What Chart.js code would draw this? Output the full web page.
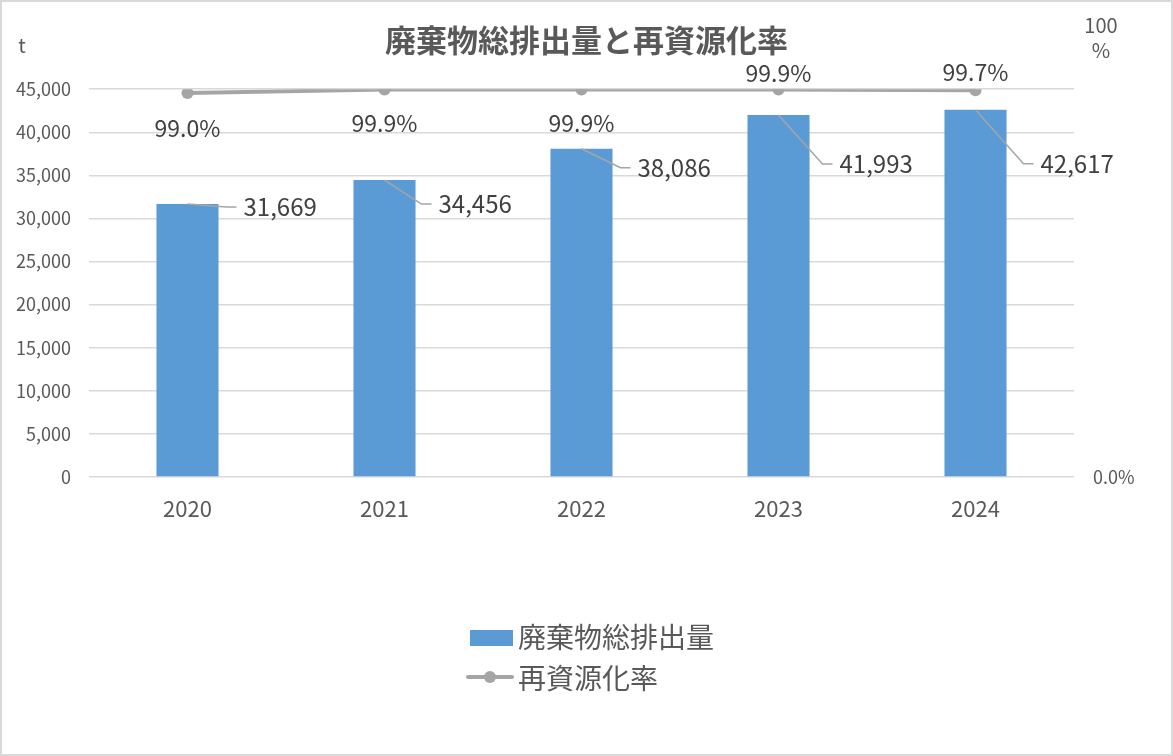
<!DOCTYPE html>
<html lang="ja">
<head>
<meta charset="utf-8">
<title>廃棄物総排出量と再資源化率</title>
<script src="https://cdn.jsdelivr.net/npm/chart.js@4.4.1/dist/chart.umd.min.js"></script>
<style>
  html, body { margin: 0; padding: 0; background: #fff; }
  .wrap { position: relative; width: 1173px; height: 756px; }
  .frame { position: absolute; inset: 0; border: 2px solid #d9d9d9; pointer-events: none; }
  canvas { display: block; }
</style>
</head>
<body>
<div class="wrap">
  <canvas id="chart" width="1173" height="756"></canvas>
  <div class="frame"></div>
</div>
<script>
const years = ["2020", "2021", "2022", "2023", "2024"];
const wasteTotal = [31669, 34456, 38086, 41993, 42617];
const recycleRate = [99.0, 99.9, 99.9, 99.9, 99.7];
const leftTicks = [0, 5000, 10000, 15000, 20000, 25000, 30000, 35000, 40000, 45000];

const FONT = "'Noto Sans CJK JP', 'Noto Sans', sans-serif";
const BLUE = "#5b9bd5";
const GRAY = "#a5a5a5";

// label placement, Excel style leader lines
const barLabelDx = [56, 54, 56, 61, 65];
const barLabelDy = [3, 24, 19, 49, 54];
const rateLabelDy = [35, 34, 34, -16, -18];

const labelPlugin = {
    id: "labels",
    afterDatasetsDraw(chart) {
        const ctx = chart.ctx;
        const bars = chart.getDatasetMeta(0).data;
        const pts = chart.getDatasetMeta(1).data;
        ctx.save();
        ctx.font = `24px ${FONT}`;
        ctx.textBaseline = "middle";
        bars.forEach((b, i) => {
            const tx = b.x + barLabelDx[i];
            const ty = b.y + barLabelDy[i];
            ctx.strokeStyle = GRAY;
            ctx.lineWidth = 1.5;
            ctx.beginPath();
            ctx.moveTo(b.x, b.y);
            ctx.lineTo(tx - 17, ty);
            ctx.lineTo(tx - 7, ty);
            ctx.stroke();
            ctx.fillStyle = "#404040";
            ctx.textAlign = "left";
            ctx.fillText(wasteTotal[i].toLocaleString("en-US"), tx, ty);
        });
        ctx.font = `23px ${FONT}`;
        ctx.textAlign = "center";
        pts.forEach((p, i) => {
            ctx.fillStyle = "#404040";
            ctx.fillText(recycleRate[i].toFixed(1) + "%", p.x, p.y + rateLabelDy[i]);
        });
        ctx.restore();
    },
    afterDraw(chart) {
        const ctx = chart.ctx;
        ctx.save();
        ctx.fillStyle = "#595959";
        ctx.textBaseline = "middle";
        ctx.textAlign = "center";
        // axis units
        ctx.font = `20px ${FONT}`;
        ctx.fillText("t", 22, 45);
        ctx.font = `20px ${FONT}`;
        ctx.fillText("100", 1101, 25);
        ctx.fillText("%", 1101, 50);

        // legend, stacked
        ctx.font = `28px ${FONT}`;
        ctx.textAlign = "left";
        ctx.fillStyle = BLUE;
        ctx.fillRect(470, 630, 43, 16);
        ctx.fillStyle = "#595959";
        ctx.fillText(chart.data.datasets[0].label, 518, 637);

        ctx.strokeStyle = GRAY;
        ctx.lineWidth = 4;
        ctx.lineCap = "round";
        ctx.beginPath();
        ctx.moveTo(468, 677);
        ctx.lineTo(512, 677);
        ctx.stroke();
        ctx.fillStyle = GRAY;
        ctx.beginPath();
        ctx.arc(490, 677, 6, 0, Math.PI * 2);
        ctx.fill();
        ctx.fillStyle = "#595959";
        ctx.fillText(chart.data.datasets[1].label, 518, 678);
        ctx.restore();
    }
};

new Chart(document.getElementById("chart"), {
    type: "bar",
    data: {
        labels: years,
        datasets: [
            {
                label: "廃棄物総排出量",
                data: wasteTotal,
                backgroundColor: BLUE,
                barPercentage: 0.315,
                categoryPercentage: 1,
                yAxisID: "y",
                order: 2
            },
            {
                type: "line",
                label: "再資源化率",
                data: recycleRate,
                borderColor: GRAY,
                borderWidth: 4,
                pointRadius: 6,
                pointBackgroundColor: GRAY,
                pointBorderWidth: 0,
                yAxisID: "y1",
                order: 1
            }
        ]
    },
    options: {
        responsive: false,
        animation: false,
        layout: { padding: { left: 0, right: 0, top: 0, bottom: 219 } },
        plugins: {
            legend: { display: false },
            tooltip: { enabled: false },
            title: {
                display: true,
                text: "廃棄物総排出量と再資源化率",
                color: "#595959",
                font: { family: FONT, size: 31, weight: "bold", lineHeight: 1.2 },
                padding: { top: 22, bottom: 30 }
            }
        },
        scales: {
            x: {
                offset: true,
                grid: { display: false },
                border: { display: false },
                ticks: { color: "#595959", font: { family: FONT, size: 22 }, padding: 10 },
                afterFit: (s) => { s.height = 60; }
            },
            y: {
                position: "left",
                min: 0,
                max: 45000,
                afterBuildTicks: (s) => { s.ticks = leftTicks.map(v => ({ value: v })); },
                grid: { color: "#d9d9d9", lineWidth: 1.5, drawTicks: false },
                border: { display: false },
                ticks: {
                    color: "#595959",
                    font: { family: FONT, size: 18 },
                    padding: 18,
                    callback: (v) => Number(v).toLocaleString("en-US")
                },
                afterFit: (s) => { s.width = 89; }
            },
            y1: {
                position: "right",
                min: 0,
                max: 100,
                afterBuildTicks: (s) => { s.ticks = [{ value: 0 }]; },
                grid: { display: false, drawTicks: false },
                border: { display: false },
                ticks: {
                    color: "#595959",
                    font: { family: FONT, size: 18 },
                    padding: 19,
                    callback: (v) => v === 0 ? "0.0%" : ""
                },
                afterFit: (s) => { s.width = 99; }
            }
        }
    },
    plugins: [labelPlugin]
});
</script>
</body>
</html>
